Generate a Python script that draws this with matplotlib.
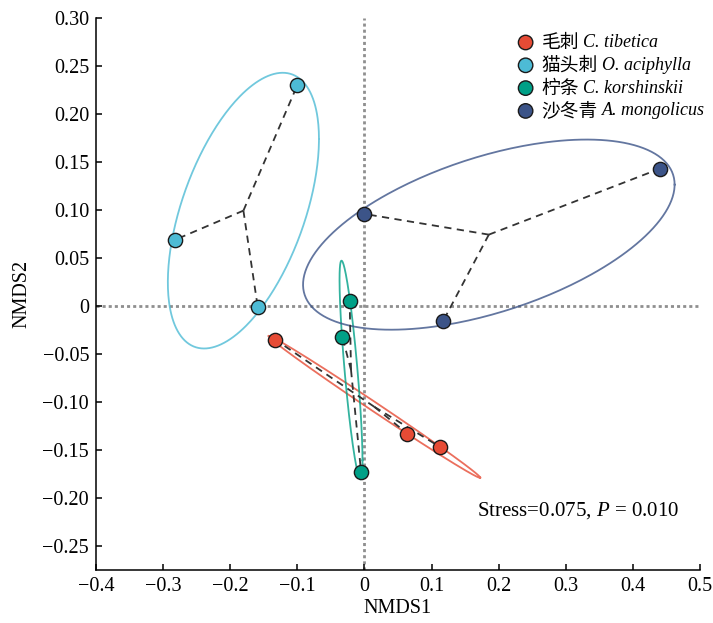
import matplotlib
matplotlib.use("Agg")

import numpy as np
import matplotlib.pyplot as plt
from matplotlib.offsetbox import AnchoredOffsetbox, VPacker, HPacker, TextArea, DrawingArea
from matplotlib.patches import Circle

# NMDS scores, three samples per shrub species
names_cn = ["毛刺", "猫头刺", "柠条", "沙冬青"]
names_la = ["C. tibetica", "O. aciphylla", "C. korshinskii", "A. mongolicus"]
colors = ["#E64B35", "#4DBBD5", "#00A087", "#3C5488"]

nmds1 = [
    [-0.133, 0.064, 0.113],
    [-0.100, -0.282, -0.159],
    [-0.022, -0.033, -0.005],
    [-0.001, 0.440, 0.117],
]
nmds2 = [
    [-0.035, -0.133, -0.147],
    [0.230, 0.069, -0.001],
    [0.005, -0.032, -0.173],
    [0.096, 0.143, -0.016],
]

xticks = [-0.4, -0.3, -0.2, -0.1, 0, 0.1, 0.2, 0.3, 0.4, 0.5]
yticks = [0.30, 0.25, 0.20, 0.15, 0.10, 0.05, 0, -0.05, -0.10, -0.15, -0.20, -0.25]
stress_text = "Stress=0.075, $\\mathit{P}$ = 0.010"

plt.rcParams["font.family"] = ["Liberation Serif", "Noto Sans CJK SC"]
plt.rcParams["mathtext.fontset"] = "custom"
plt.rcParams["mathtext.rm"] = "Liberation Serif"
plt.rcParams["mathtext.it"] = "Liberation Serif:italic"
plt.rcParams["axes.unicode_minus"] = True


def fmt(v, nd):
    if abs(v) < 1e-9:
        return "0"
    s = f"{abs(v):.{nd}f}"
    return ("\u2212" + s) if v < 0 else s


def main():
    fig = plt.figure(figsize=(7.13, 6.23), dpi=100)
    ax = fig.add_axes([0.1346, 0.0851, 0.8472, 0.886])

    ax.axhline(0, color="#8f8f8f", lw=2.0, ls=(0, (1.1, 1.1)), zorder=1)
    ax.axvline(0, color="#8f8f8f", lw=2.0, ls=(0, (1.1, 1.1)), zorder=1)

    t = np.linspace(0, 2 * np.pi, 300)
    for xs, ys, col in zip(nmds1, nmds2, colors):
        pts = np.column_stack([xs, ys])
        m = pts.mean(axis=0)
        S = np.cov(pts.T)
        Sinv = np.linalg.inv(S)
        d = pts - m
        # radius through the samples, padded a little like the original
        k = 1.05 * np.sqrt(np.max(np.einsum("ij,jk,ik->i", d, Sinv, d)))
        L = np.linalg.cholesky(S)
        ell = m[:, None] + k * L @ np.vstack([np.cos(t), np.sin(t)])
        ax.plot(ell[0], ell[1], color=col, lw=1.3, alpha=0.8, zorder=2)

        # spider from group centroid
        for px, py in pts:
            ax.plot([m[0], px], [m[1], py], color="#333333", lw=1.3,
                    dashes=(4, 3), zorder=3)
        ax.scatter(xs, ys, s=105, color=col, edgecolor="#1a1a1a",
                   linewidth=1.0, zorder=4)

    ax.set_xlim(-0.4, 0.5)
    ax.set_ylim(-0.275, 0.30)
    ax.set_xticks(xticks)
    ax.set_xticklabels([fmt(v, 1) for v in xticks])
    ax.set_yticks(yticks)
    ax.set_yticklabels([fmt(v, 2) for v in yticks])
    ax.tick_params(direction="in", length=4, width=1.1, labelsize=14.5, pad=5)
    for side in ["top", "right"]:
        ax.spines[side].set_visible(False)
    for side in ["left", "bottom"]:
        ax.spines[side].set_linewidth(1.1)

    ax.set_xlabel("NMDS1", fontsize=14.5, labelpad=2)
    ax.set_ylabel("NMDS2", fontsize=14.5, labelpad=8)

    ax.text(0.168, -0.213, stress_text, fontsize=15, va="center", ha="left")

    # legend built by hand: Chinese name + italic Latin name
    rows = []
    for cn, la, col in zip(names_cn, names_la, colors):
        da = DrawingArea(12, 12, 0, 0)
        da.add_artist(Circle((6, 6), 5.2, fc=col, ec="#1a1a1a", lw=1.0))
        t_cn = TextArea(cn, textprops=dict(family="Noto Sans CJK SC", size=13.5))
        t_la = TextArea(la, textprops=dict(family="Liberation Serif",
                                           style="italic", size=13))
        label = HPacker(children=[t_cn, t_la], sep=3, align="center")
        rows.append(HPacker(children=[da, label], sep=5.5, align="center"))
    box = VPacker(children=rows, sep=1.3, align="left")
    leg = AnchoredOffsetbox(loc="upper right", child=box, frameon=False,
                            pad=0, borderpad=0,
                            bbox_to_anchor=(705 / 713, (623 - 32) / 623),
                            bbox_transform=fig.transFigure)
    ax.add_artist(leg)

    fig.savefig("out.png", dpi=100)


if __name__ == "__main__":
    main()
